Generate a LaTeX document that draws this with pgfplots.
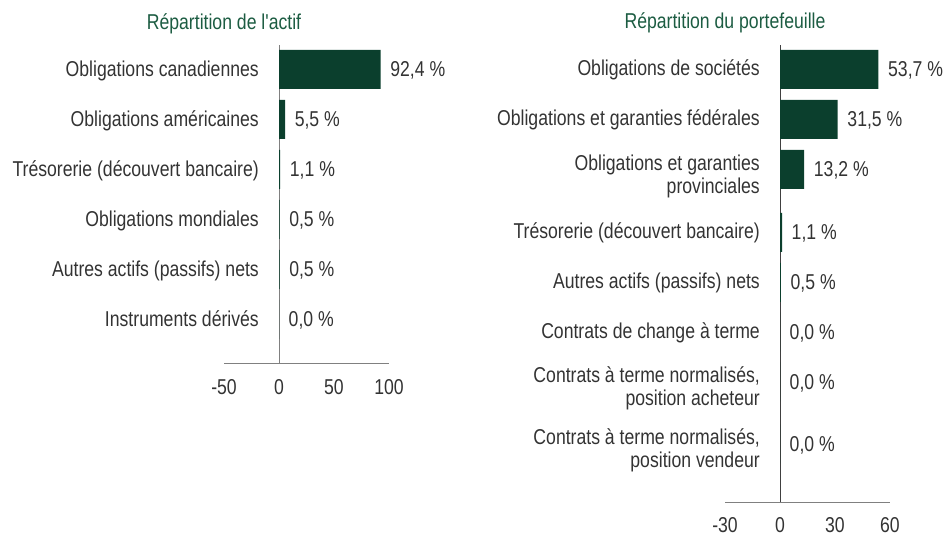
\documentclass[border=0pt]{standalone}
\usepackage{fontspec}
\setmainfont{Liberation Sans}[FakeStretch=0.82, Ligatures=TeXOff]
\usepackage{pgfplots}
\pgfplotsset{compat=1.18}
\definecolor{bargreen}{HTML}{0B3F2D}
\definecolor{titlegreen}{HTML}{1C5C42}
\definecolor{txt}{HTML}{333333}
\newcommand\fs{\fontsize{21.5}{23}\selectfont}
\pgfplotsset{
  mybar/.style={
    at={(#1)}, anchor=south west, scale only axis,
    axis line style={draw=none}, ytick=\empty, major tick length=0pt,
    /pgf/number format/assume math mode=true,
    xticklabel style={font=\fs, text=txt, anchor=base, inner sep=0pt},
    clip=false,
  },
  valbar/.style={
    xbar, fill=bargreen, draw=none, bar width=39, point meta=x,
    nodes near coords={\pgfmathprintnumber[fixed, fixed zerofill, precision=1, use comma, assume math mode=true]{\pgfplotspointmeta}~\%},
    nodes near coords style={anchor=base west, inner sep=0pt, xshift=9.5pt, yshift=-7.5pt, font=\fs, text=txt},
  },
}
\begin{document}
\begin{tikzpicture}[font=\fs, text=txt]
\useasboundingbox (0,0) rectangle (946pt,537pt);
% ---------- left chart ----------
\begin{axis}[mybar={224pt,174pt}, width=165pt, height=318pt,
  xmin=-50, xmax=100, ymin=174, ymax=492, xtick={-50,0,50,100},
  xticklabel style={yshift=-32pt}]
\draw[gray] (axis cs:-50,174) -- (axis cs:100,174);
\draw[gray] (axis cs:0,174) -- (axis cs:0,492);
\addplot[valbar] coordinates {
 (92.4,467.5) (5.5,417.5) (1.1,367.5) (0.5,317.5) (0.5,267.5) (0.0,217.5)
};
\end{axis}
% ---------- right chart ----------
\begin{axis}[mybar={725pt,35pt}, width=165pt, height=457pt,
  xmin=-30, xmax=60, ymin=35, ymax=492, xtick={-30,0,30,60},
  xticklabel style={yshift=-31pt}]
\draw[gray] (axis cs:-30,35) -- (axis cs:60,35);
\draw[black!75] (axis cs:0,35) -- (axis cs:0,492);
\addplot[valbar] coordinates {
 (53.7,467.5) (31.5,417.5) (13.2,367.5) (1.1,304.5) (0.5,254.5) (0.0,205) (0.0,155) (0.0,93)
};
\end{axis}
% ---------- titles ----------
\node[anchor=base, text=titlegreen, inner sep=0pt] at (224pt,507pt) {Répartition de l'actif};
\node[anchor=base, text=titlegreen, inner sep=0pt] at (725pt,508pt) {Répartition du portefeuille};
% ---------- category labels, left ----------
\begin{scope}[every node/.style={anchor=base east, inner sep=0pt}]
\node at (259pt,460.5pt) {Obligations canadiennes};
\node at (259pt,410.5pt) {Obligations américaines};
\node at (259pt,360.5pt) {Trésorerie (découvert bancaire)};
\node at (259pt,310.5pt) {Obligations mondiales};
\node at (259pt,260.5pt) {Autres actifs (passifs) nets};
\node at (259pt,210.5pt) {Instruments dérivés};
% ---------- category labels, right ----------
\node at (760pt,461pt) {Obligations de sociétés};
\node at (760pt,411pt) {Obligations et garanties fédérales};
\node at (760pt,366pt) {Obligations et garanties};
\node at (760pt,343pt) {provinciales};
\node at (760pt,298pt) {Trésorerie (découvert bancaire)};
\node at (760pt,248.5pt) {Autres actifs (passifs) nets};
\node at (760pt,198pt) {Contrats de change à terme};
\node at (760pt,154.5pt) {Contrats à terme normalisés,};
\node at (760pt,131pt) {position acheteur};
\node at (760pt,92.5pt) {Contrats à terme normalisés,};
\node at (760pt,69pt) {position vendeur};
\end{scope}
\end{tikzpicture}
\end{document}
